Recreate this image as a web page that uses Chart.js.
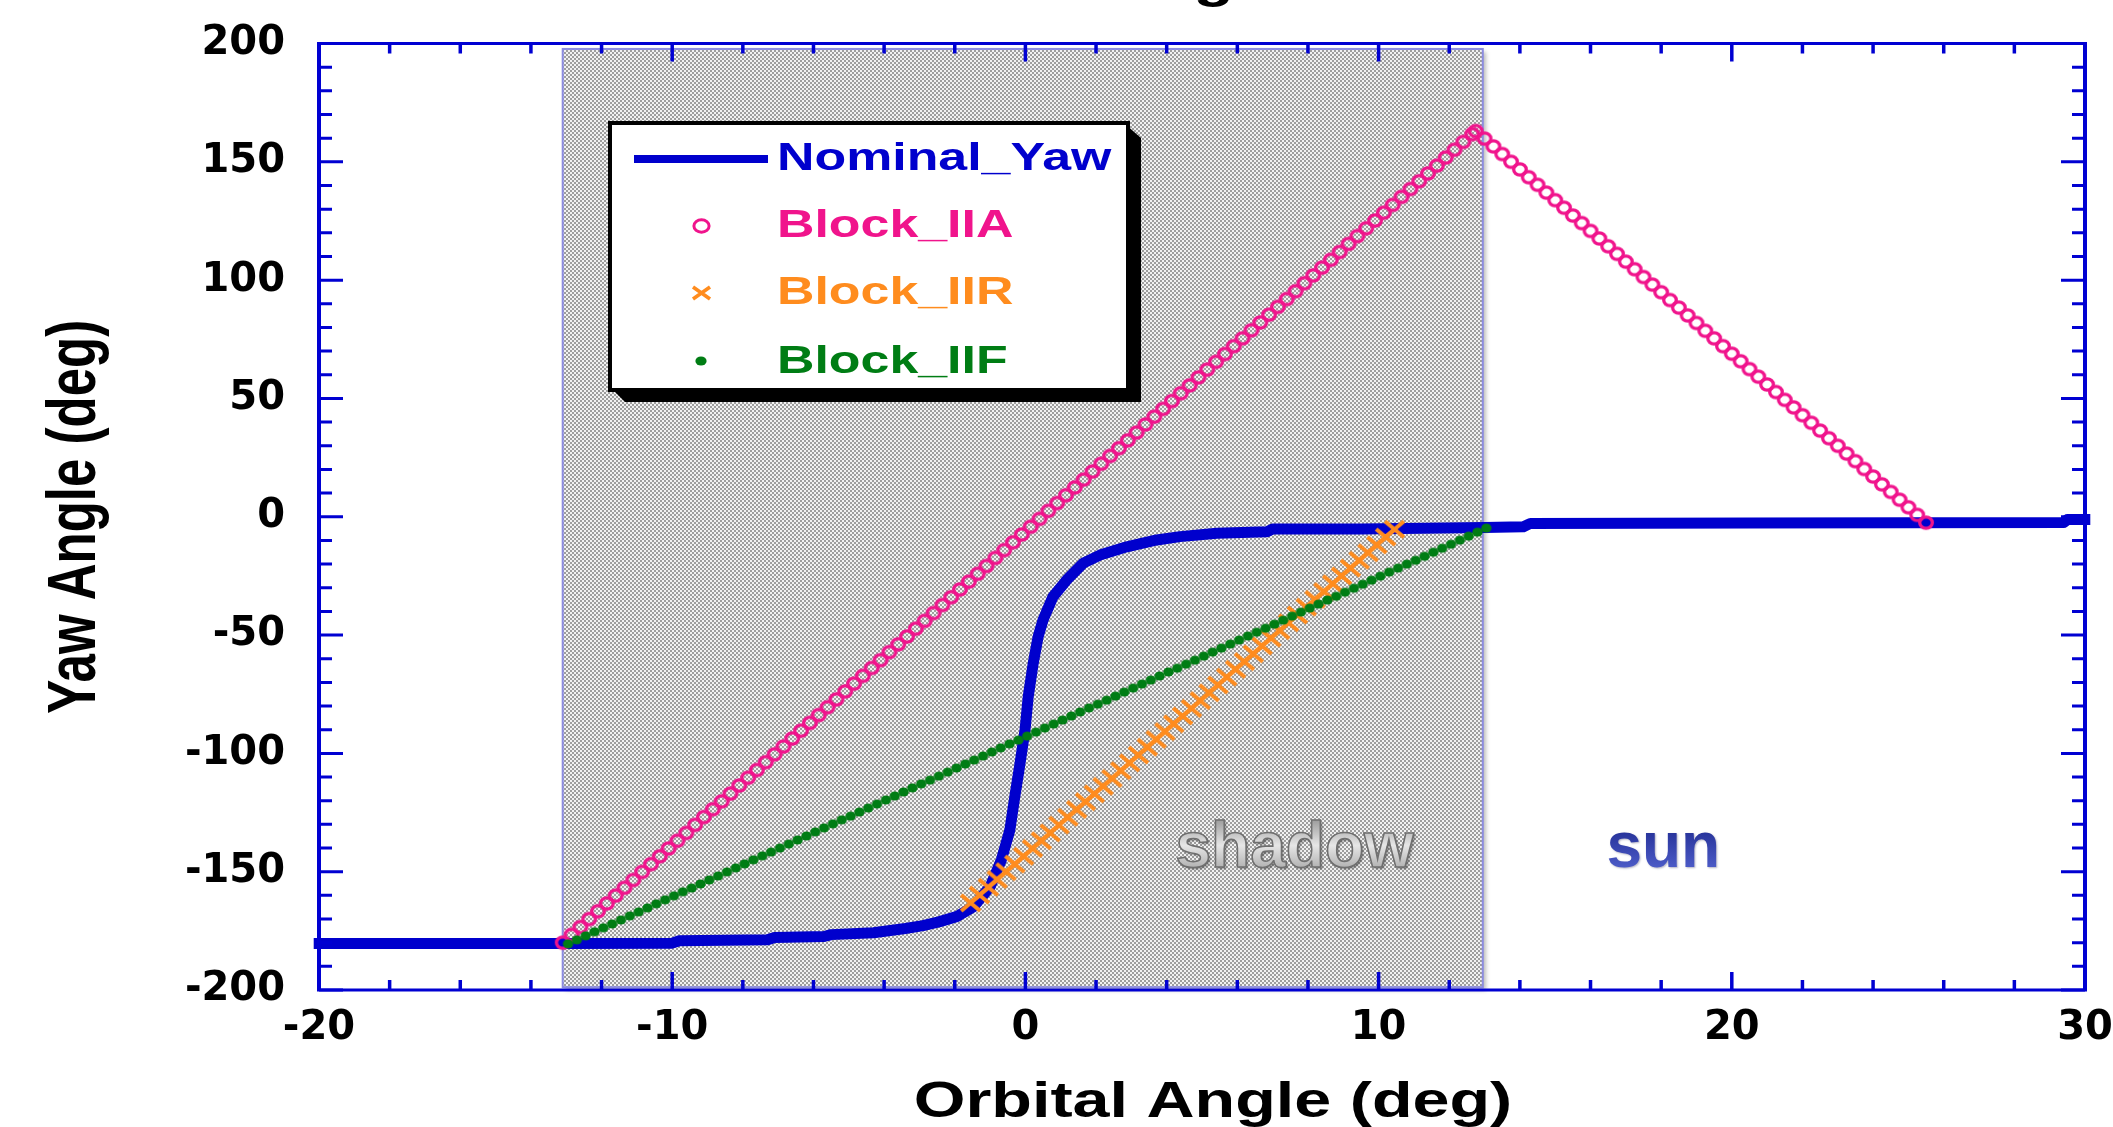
<!DOCTYPE html>
<html>
<head>
<meta charset="utf-8">
<script src="https://cdn.jsdelivr.net/npm/chart.js@4.4.0/dist/chart.umd.min.js"></script>
<style>
  html, body { margin: 0; padding: 0; background: #fff; overflow: hidden; }
  canvas { display: block; }
</style>
</head>
<body>
<canvas id="yawChart" width="2113" height="1127"></canvas>
<script>
// --- Yaw angle vs orbital angle through the eclipse (shadow) ---

const seriesNames = ["Nominal_Yaw", "Block_IIA", "Block_IIR", "Block_IIF"];

// nominal yaw (solid line)
const nomX = [-20.15, -13.0, -10.0, -9.8, -7.3, -7.1, -5.7, -5.5, -4.3, -3.4, -2.9, -2.45, -1.95, -1.47, -1.0,
  -0.68, -0.44, -0.3, -0.15, -0.01, 0.08, 0.22, 0.36, 0.5, 0.78, 1.17, 1.64, 2.11, 2.87, 3.72, 4.38, 5.42,
  6.84, 7.0, 9.5, 13.0, 14.1, 14.3, 20.5, 29.4, 29.5, 30.15];
const nomY = [-180.3, -180.3, -180.2, -179.2, -178.8, -177.8, -177.4, -176.6, -175.8, -174.0, -172.8, -171.2, -169.0, -164.8, -156.4,
  -145.0, -132.4, -118.3, -104.0, -90.0, -76.0, -62.0, -50.7, -43.6, -33.8, -26.7, -19.6, -16.2, -12.7, -9.8, -8.4, -7.0,
  -6.3, -5.2, -5.2, -4.5, -4.2, -2.8, -2.6, -2.4, -1.2, -1.2];

// Block IIA (open circles)
const iiaX = [-13.1, -12.85, -12.6, -12.35, -12.1, -11.85, -11.6, -11.35, -11.1, -10.85,
  -10.6, -10.35, -10.1, -9.85, -9.6, -9.35, -9.1, -8.85, -8.6, -8.35,
  -8.1, -7.85, -7.6, -7.35, -7.1, -6.85, -6.6, -6.35, -6.1, -5.85,
  -5.6, -5.35, -5.1, -4.85, -4.6, -4.35, -4.1, -3.85, -3.6, -3.35,
  -3.1, -2.85, -2.6, -2.35, -2.1, -1.85, -1.6, -1.35, -1.1, -0.85,
  -0.6, -0.35, -0.1, 0.15, 0.4, 0.65, 0.9, 1.15, 1.4, 1.65,
  1.9, 2.15, 2.4, 2.65, 2.9, 3.15, 3.4, 3.65, 3.9, 4.15,
  4.4, 4.65, 4.9, 5.15, 5.4, 5.65, 5.9, 6.15, 6.4, 6.65,
  6.9, 7.15, 7.4, 7.65, 7.9, 8.15, 8.4, 8.65, 8.9, 9.15,
  9.4, 9.65, 9.9, 10.15, 10.4, 10.65, 10.9, 11.15, 11.4, 11.65,
  11.9, 12.15, 12.4, 12.65, 12.75,
  13.0, 13.25, 13.5, 13.75, 14.0, 14.25, 14.5, 14.75, 15.0, 15.25,
  15.5, 15.75, 16.0, 16.25, 16.5, 16.75, 17.0, 17.25, 17.5, 17.75,
  18.0, 18.25, 18.5, 18.75, 19.0, 19.25, 19.5, 19.75, 20.0, 20.25,
  20.5, 20.75, 21.0, 21.25, 21.5, 21.75, 22.0, 22.25, 22.5, 22.75,
  23.0, 23.25, 23.5, 23.75, 24.0, 24.25, 24.5, 24.75, 25.0, 25.25, 25.5];
const iiaY = [-180.0, -176.7, -173.4, -170.0, -166.7, -163.4, -160.1, -156.8, -153.5, -150.1,
  -146.8, -143.5, -140.2, -136.9, -133.6, -130.2, -126.9, -123.6, -120.3, -117.0,
  -113.6, -110.3, -107.0, -103.7, -100.4, -97.1, -93.7, -90.4, -87.1, -83.8,
  -80.5, -77.2, -73.8, -70.5, -67.2, -63.9, -60.6, -57.2, -53.9, -50.6,
  -47.3, -44.0, -40.7, -37.3, -34.0, -30.7, -27.4, -24.1, -20.8, -17.4,
  -14.1, -10.8, -7.5, -4.2, -0.9, 2.5, 5.8, 9.1, 12.4, 15.7,
  19.1, 22.4, 25.7, 29.0, 32.3, 35.6, 39.0, 42.3, 45.6, 48.9,
  52.2, 55.5, 58.9, 62.2, 65.5, 68.8, 72.1, 75.4, 78.8, 82.1,
  85.4, 88.7, 92.0, 95.3, 98.7, 102.0, 105.3, 108.6, 111.9, 115.3,
  118.6, 121.9, 125.2, 128.5, 131.8, 135.2, 138.5, 141.8, 145.1, 148.4,
  151.8, 155.1, 158.4, 161.7, 163.0,
  159.8, 156.5, 153.3, 150.0, 146.8, 143.5, 140.3, 137.0, 133.8, 130.6,
  127.3, 124.1, 120.8, 117.6, 114.3, 111.1, 107.8, 104.6, 101.3, 98.1,
  94.9, 91.6, 88.4, 85.1, 81.9, 78.6, 75.4, 72.1, 68.9, 65.7,
  62.4, 59.2, 55.9, 52.7, 49.4, 46.2, 42.9, 39.7, 36.4, 33.2,
  30.0, 26.7, 23.5, 20.2, 17.0, 13.7, 10.5, 7.2, 4.0, 0.8, -2.5];

// Block IIR (crosses)
const iirX = [-1.55, -1.3, -1.05, -0.8, -0.55, -0.3, -0.05, 0.2, 0.45, 0.7,
  0.95, 1.2, 1.45, 1.7, 1.95, 2.2, 2.45, 2.7, 2.95, 3.2,
  3.45, 3.7, 3.95, 4.2, 4.45, 4.7, 4.95, 5.2, 5.45, 5.7,
  5.95, 6.2, 6.45, 6.7, 6.95, 7.2, 7.45, 7.7, 7.95, 8.2,
  8.45, 8.7, 8.95, 9.2, 9.45, 9.7, 9.95, 10.2, 10.45];
const iirY = [-163.2, -159.9, -156.6, -153.3, -150.0, -146.8, -143.5, -140.2, -136.9, -133.6,
  -130.3, -127.0, -123.7, -120.4, -117.1, -113.9, -110.6, -107.3, -104.0, -100.7,
  -97.4, -94.1, -90.8, -87.5, -84.2, -81.0, -77.7, -74.4, -71.1, -67.8,
  -64.5, -61.2, -57.9, -54.6, -51.3, -48.1, -44.8, -41.5, -38.2, -34.9,
  -31.6, -28.3, -25.0, -21.7, -18.4, -15.2, -11.9, -8.6, -5.3];

// Block IIF (dots)
const iifX = [-12.95, -12.7, -12.45, -12.2, -11.95, -11.7, -11.45, -11.2, -10.95, -10.7,
  -10.45, -10.2, -9.95, -9.7, -9.45, -9.2, -8.95, -8.7, -8.45, -8.2,
  -7.95, -7.7, -7.45, -7.2, -6.95, -6.7, -6.45, -6.2, -5.95, -5.7,
  -5.45, -5.2, -4.95, -4.7, -4.45, -4.2, -3.95, -3.7, -3.45, -3.2,
  -2.95, -2.7, -2.45, -2.2, -1.95, -1.7, -1.45, -1.2, -0.95, -0.7,
  -0.45, -0.2, 0.05, 0.3, 0.55, 0.8, 1.05, 1.3, 1.55, 1.8,
  2.05, 2.3, 2.55, 2.8, 3.05, 3.3, 3.55, 3.8, 4.05, 4.3,
  4.55, 4.8, 5.05, 5.3, 5.55, 5.8, 6.05, 6.3, 6.55, 6.8,
  7.05, 7.3, 7.55, 7.8, 8.05, 8.3, 8.55, 8.8, 9.05, 9.3,
  9.55, 9.8, 10.05, 10.3, 10.55, 10.8, 11.05, 11.3, 11.55, 11.8,
  12.05, 12.3, 12.55, 12.8, 13.05];
const iifY = [-180.5, -178.8, -177.1, -175.4, -173.7, -172.1, -170.4, -168.7, -167.0, -165.3,
  -163.6, -161.9, -160.2, -158.5, -156.9, -155.2, -153.5, -151.8, -150.1, -148.4,
  -146.7, -145.0, -143.3, -141.7, -140.0, -138.3, -136.6, -134.9, -133.2, -131.5,
  -129.8, -128.1, -126.5, -124.8, -123.1, -121.4, -119.7, -118.0, -116.3, -114.6,
  -112.9, -111.3, -109.6, -107.9, -106.2, -104.5, -102.8, -101.1, -99.4, -97.7,
  -96.0, -94.4, -92.7, -91.0, -89.3, -87.6, -85.9, -84.2, -82.5, -80.8,
  -79.2, -77.5, -75.8, -74.1, -72.4, -70.7, -69.0, -67.3, -65.6, -64.0,
  -62.3, -60.6, -58.9, -57.2, -55.5, -53.8, -52.1, -50.4, -48.8, -47.1,
  -45.4, -43.7, -42.0, -40.3, -38.6, -36.9, -35.2, -33.6, -31.9, -30.2,
  -28.5, -26.8, -25.1, -23.4, -21.7, -20.0, -18.4, -16.7, -15.0, -13.3,
  -11.6, -9.9, -8.2, -6.5, -4.8];

// eclipse (shadow) span and region labels
const shadowX = [-13.1, 12.95];
const shadowY = [197.7, -198.8];
const regionLabels = ["shadow", "sun"];
const regionLabelX = [4.25, 16.45];
const regionLabelY = -148;

// axis ticks
const xTicks = [-20, -10, 0, 10, 20, 30];
const yTicks = [-200, -150, -100, -50, 0, 50, 100, 150, 200];

const BLUE = "#0000cd";
const AXIS_BLUE = "#0000d2";
const PINK = "#f0148c";
const ORANGE = "#ff8c1e";
const GREEN = "#007d14";
const HELV = '"Liberation Sans", Arial, sans-serif';
const STRETCH = 1.33; // the original figure is stretched sideways

const toXY = (xs, ys) => xs.map((x, i) => ({ x: x, y: ys[i] }));

// small marker images (slightly wider than tall, like the original)
function markerCanvas(w, h, draw) {
  const c = document.createElement("canvas");
  c.width = w;
  c.height = h;
  draw(c.getContext("2d"), w, h);
  return c;
}
const ringMark = (rx, ry, lw) => markerCanvas(Math.ceil(rx * 2 + lw + 4), Math.ceil(ry * 2 + lw + 4), (g, w, h) => {
  g.strokeStyle = PINK;
  g.lineWidth = lw;
  g.beginPath();
  g.ellipse(w / 2, h / 2, rx, ry, 0, 0, Math.PI * 2);
  g.stroke();
});
const crossMark = (w, h, lw) => markerCanvas(w, h, (g) => {
  g.strokeStyle = ORANGE;
  g.lineWidth = lw;
  g.beginPath();
  g.moveTo(2, 2); g.lineTo(w - 2, h - 2);
  g.moveTo(w - 2, 2); g.lineTo(2, h - 2);
  g.stroke();
});
const dotMark = (rx, ry) => markerCanvas(Math.ceil(rx * 2 + 2), Math.ceil(ry * 2 + 2), (g, w, h) => {
  g.fillStyle = GREEN;
  g.beginPath();
  g.ellipse(w / 2, h / 2, rx, ry, 0, 0, Math.PI * 2);
  g.fill();
});

const iiaPoint = ringMark(6.3, 5.6, 3.3);
const iirPoint = crossMark(23, 20, 4);
const iifPoint = dotMark(5.2, 4.6);

// checkered fill of the shadow area
function checker(ctx) {
  const c = document.createElement("canvas");
  c.width = 4;
  c.height = 4;
  const g = c.getContext("2d");
  g.fillStyle = "#f2f2f2";
  g.fillRect(0, 0, 4, 4);
  g.fillStyle = "#9e9e9e";
  g.fillRect(0, 0, 2, 2);
  g.fillRect(2, 2, 2, 2);
  return ctx.createPattern(c, "repeat");
}

function wideText(ctx, text, x, y, sx, sy) {
  ctx.save();
  ctx.translate(x, y);
  ctx.scale(sx, sy);
  ctx.fillText(text, 0, 0);
  ctx.restore();
}

const decor = {
  id: "decor",
  beforeDatasetsDraw(chart) {
    const { ctx, scales: { x, y } } = chart;
    const l = x.getPixelForValue(shadowX[0]);
    const r = x.getPixelForValue(shadowX[1]);
    const t = y.getPixelForValue(shadowY[0]);
    const b = y.getPixelForValue(shadowY[1]);
    ctx.save();
    ctx.shadowColor = "rgba(0,0,0,0.28)";
    ctx.shadowOffsetX = 3;
    ctx.shadowOffsetY = 3;
    ctx.shadowBlur = 4;
    ctx.fillStyle = checker(ctx);
    ctx.fillRect(l, t, r - l, b - t);
    ctx.restore();
    ctx.save();
    ctx.strokeStyle = "#8c8ce0";
    ctx.lineWidth = 2;
    ctx.strokeRect(l, t, r - l, b - t);

    // "shadow" / "sun"
    ctx.font = "bold 64px " + HELV;
    ctx.textAlign = "left";
    ctx.textBaseline = "alphabetic";
    const by = y.getPixelForValue(regionLabelY);
    const sx = x.getPixelForValue(regionLabelX[0]);
    let grad = ctx.createLinearGradient(0, by - 48, 0, by);
    grad.addColorStop(0, "#9a9a9a");
    grad.addColorStop(0.55, "#e6e6e6");
    grad.addColorStop(1, "#b4b4b4");
    ctx.shadowColor = "rgba(0,0,0,0.35)";
    ctx.shadowOffsetX = 2;
    ctx.shadowOffsetY = 2;
    ctx.shadowBlur = 2;
    ctx.fillStyle = grad;
    ctx.fillText(regionLabels[0], sx, by);
    ctx.shadowColor = "transparent";
    ctx.strokeStyle = "#6f6f6f";
    ctx.lineWidth = 1.6;
    ctx.strokeText(regionLabels[0], sx, by);

    const ux = x.getPixelForValue(regionLabelX[1]);
    grad = ctx.createLinearGradient(0, by - 36, 0, by);
    grad.addColorStop(0, "#27339a");
    grad.addColorStop(1, "#4b5ac6");
    ctx.shadowColor = "rgba(0,0,60,0.3)";
    ctx.shadowOffsetX = 1;
    ctx.shadowOffsetY = 1;
    ctx.shadowBlur = 2;
    ctx.fillStyle = grad;
    ctx.fillText(regionLabels[1], ux, by);
    ctx.restore();
  },
  afterDatasetsDraw(chart) {
    // boxed legend with black drop shadow
    const { ctx } = chart;
    const bx = 610, by = 123, bw = 518, bh = 267;
    ctx.save();
    ctx.fillStyle = "#000";
    ctx.beginPath();
    ctx.moveTo(bx + bw - 4, by);
    ctx.lineTo(bx + bw + 13, by + 15);
    ctx.lineTo(bx + bw + 13, by + bh + 12);
    ctx.lineTo(bx + 15, by + bh + 12);
    ctx.lineTo(bx, by + bh - 3);
    ctx.closePath();
    ctx.fill();
    ctx.fillStyle = "#fff";
    ctx.fillRect(bx, by, bw, bh);
    ctx.strokeStyle = "#000";
    ctx.lineWidth = 4;
    ctx.strokeRect(bx, by, bw, bh);

    const colors = [BLUE, PINK, ORANGE, GREEN];
    const rowY = [170, 237, 304, 373];
    const markY = [159, 226, 293, 361];
    // line sample
    ctx.strokeStyle = BLUE;
    ctx.lineWidth = 8;
    ctx.beginPath();
    ctx.moveTo(634, markY[0]);
    ctx.lineTo(768, markY[0]);
    ctx.stroke();
    const legendMarks = [null, ringMark(7.6, 6.2, 3), crossMark(21, 16, 3.6), dotMark(5.6, 4.6)];
    for (let i = 1; i < 4; i++) {
      const m = legendMarks[i];
      ctx.drawImage(m, Math.round(701 - m.width / 2), Math.round(markY[i] - m.height / 2));
    }
    ctx.font = "bold 39px " + HELV;
    ctx.textAlign = "left";
    ctx.textBaseline = "alphabetic";
    seriesNames.forEach((name, i) => {
      ctx.fillStyle = colors[i];
      wideText(ctx, name, 777, rowY[i], STRETCH, 1);
    });
    ctx.restore();
  },
  afterDraw(chart) {
    const { ctx, chartArea: a, scales: { x, y } } = chart;
    ctx.save();
    ctx.strokeStyle = AXIS_BLUE;
    ctx.lineCap = "butt";
    // tick marks pointing inwards on all four sides
    ctx.lineWidth = 3.5;
    for (let v = x.min; v <= x.max + 1e-9; v += 2) {
      const px = x.getPixelForValue(v);
      const len = Math.abs(v % 10) < 1e-9 ? 18 : 10;
      ctx.beginPath();
      ctx.moveTo(px, a.bottom); ctx.lineTo(px, a.bottom - len);
      ctx.moveTo(px, a.top); ctx.lineTo(px, a.top + len);
      ctx.stroke();
    }
    ctx.lineWidth = 3;
    for (let v = y.min; v <= y.max + 1e-9; v += 10) {
      const py = y.getPixelForValue(v);
      const len = Math.abs(v % 50) < 1e-9 ? 24 : 13;
      ctx.beginPath();
      ctx.moveTo(a.left, py); ctx.lineTo(a.left + len, py);
      ctx.moveTo(a.right, py); ctx.lineTo(a.right - len, py);
      ctx.stroke();
    }
    // frame
    ctx.lineWidth = 3;
    ctx.beginPath();
    ctx.moveTo(a.left - 2, a.top); ctx.lineTo(a.right + 2, a.top);
    ctx.moveTo(a.left - 2, a.bottom); ctx.lineTo(a.right + 2, a.bottom);
    ctx.stroke();
    ctx.lineWidth = 4;
    ctx.beginPath();
    ctx.moveTo(a.left, a.top); ctx.lineTo(a.left, a.bottom);
    ctx.moveTo(a.right, a.top); ctx.lineTo(a.right, a.bottom);
    ctx.stroke();

    // axis titles
    ctx.fillStyle = "#000";
    ctx.textAlign = "center";
    ctx.font = "bold 51px " + HELV;
    ctx.save();
    ctx.translate(76, (a.top + a.bottom) / 2);
    ctx.rotate(-Math.PI / 2);
    ctx.scale(1, STRETCH);
    ctx.textBaseline = "middle";
    ctx.fillText("Yaw Angle (deg)", 0, 0);
    ctx.restore();
    ctx.font = "bold 50px " + HELV;
    ctx.textBaseline = "alphabetic";
    wideText(ctx, "Orbital Angle (deg)", 1213, 1117, STRETCH, 1);
    // chart title, almost entirely above the top edge
    ctx.textAlign = "right";
    wideText(ctx, "Yaw Turning", 1234, -3.5, STRETCH, 1);
    ctx.restore();
  }
};

const tickFont = { family: '"DejaVu Sans", sans-serif', size: 40, weight: "bold" };

new Chart(document.getElementById("yawChart").getContext("2d"), {
  type: "scatter",
  data: {
    datasets: [
      {
        label: seriesNames[0],
        data: toXY(nomX, nomY),
        showLine: true,
        borderColor: BLUE,
        backgroundColor: BLUE,
        borderWidth: 11,
        borderJoinStyle: "round",
        pointRadius: 0,
        tension: 0,
        clip: 8,
        order: 4
      },
      {
        label: seriesNames[1],
        data: toXY(iiaX, iiaY),
        pointStyle: iiaPoint,
        pointRadius: 6,
        order: 3
      },
      {
        label: seriesNames[2],
        data: toXY(iirX, iirY),
        pointStyle: iirPoint,
        pointRadius: 8,
        order: 2
      },
      {
        label: seriesNames[3],
        data: toXY(iifX, iifY),
        pointStyle: iifPoint,
        pointRadius: 5,
        order: 1
      }
    ]
  },
  options: {
    responsive: false,
    animation: false,
    events: [],
    layout: { padding: { left: 0, right: 28, top: 43.5, bottom: 0 } },
    plugins: {
      legend: { display: false },
      tooltip: { enabled: false }
    },
    scales: {
      x: {
        type: "linear",
        min: -20,
        max: 30,
        afterFit: (s) => { s.height = 137; s.paddingLeft = 0; s.paddingRight = 0; },
        afterBuildTicks: (s) => { s.ticks = xTicks.map((v) => ({ value: v })); },
        ticks: { font: tickFont, color: "#000", padding: 15 },
        grid: { display: false, drawTicks: false },
        border: { display: false }
      },
      y: {
        type: "linear",
        min: -200,
        max: 200,
        afterFit: (s) => { s.width = 319; s.paddingTop = 0; s.paddingBottom = 0; },
        afterBuildTicks: (s) => { s.ticks = yTicks.map((v) => ({ value: v })); },
        ticks: { font: tickFont, color: "#000", padding: 34 },
        grid: { display: false, drawTicks: false },
        border: { display: false }
      }
    }
  },
  plugins: [decor]
});
</script>
</body>
</html>
